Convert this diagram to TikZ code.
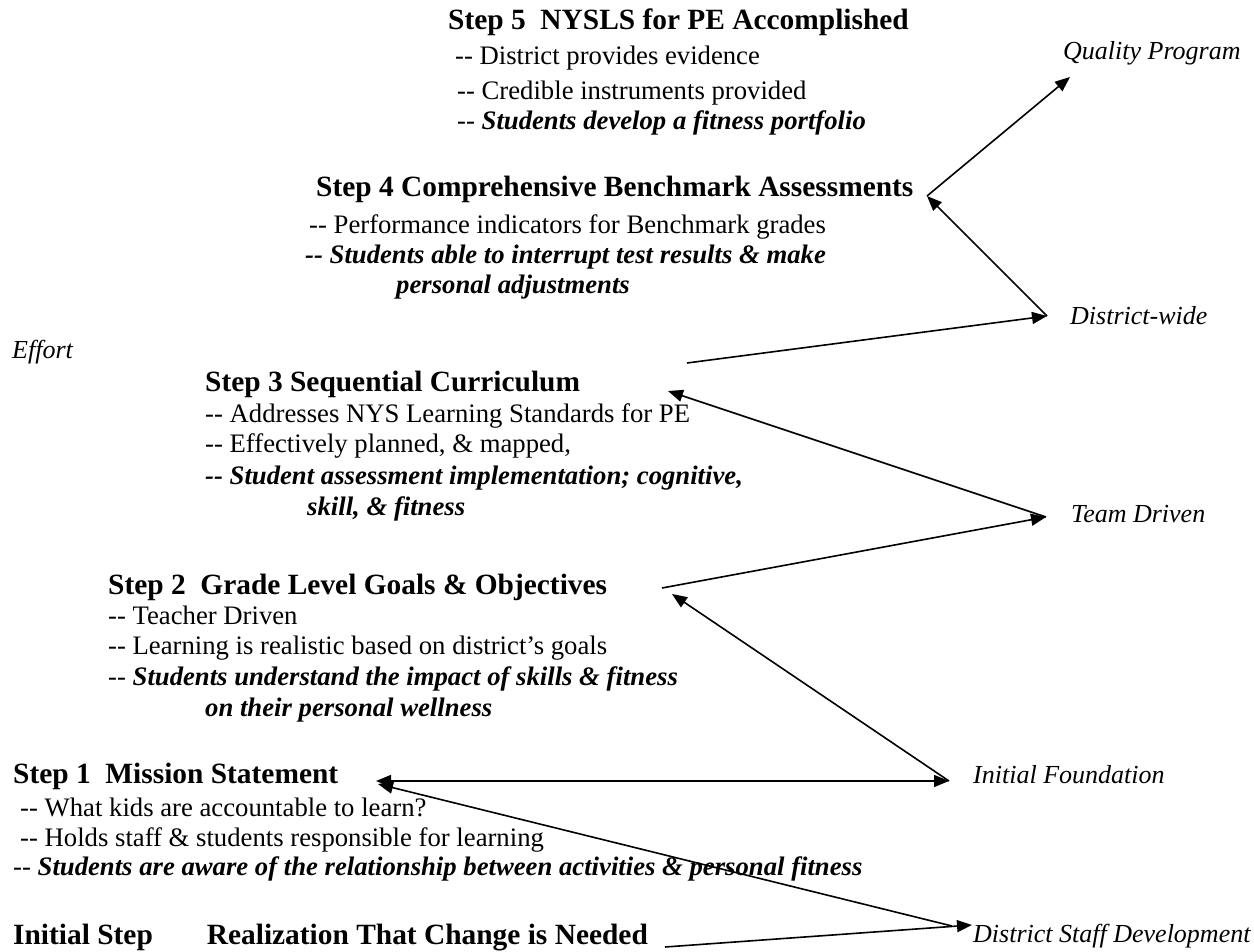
\documentclass[tikz,border=0pt]{standalone}
\usepackage{fontspec}
\setmainfont{Liberation Serif}
\usetikzlibrary{arrows.meta}
\newcommand{\dsh}{\mbox{-}\mbox{-}}
\newcommand{\bi}[1]{\textbf{\textit{#1}}}
\begin{document}
\begin{tikzpicture}[x=1pt,y=-1pt,
  txt/.style={anchor=base west,inner sep=0pt,font=\fontsize{26.7}{30}\selectfont},
  hd/.style={anchor=base west,inner sep=0pt,font=\fontsize{29.4}{34}\selectfont\bfseries},
  scr/.style={anchor=base west,inner sep=0pt,font=\fontsize{26}{30}\selectfont\itshape},
  arr/.style={line width=1.6pt,-{Triangle[length=15pt,width=12pt]}},
  darr/.style={line width=1.6pt,{Triangle[length=15pt,width=12pt]}-{Triangle[length=15pt,width=12pt]}},
]
\useasboundingbox (0,0) rectangle (1254,952);
% Step 5
\node[hd]  (s5)  at (448,30)  {Step 5\ \ NYSLS for PE Accomplished};
\node[txt] (s5a) at (455,65)  {\dsh{} District provides evidence};
\node[txt] (s5b) at (457,100) {\dsh{} Credible instruments provided};
\node[txt] (s5c) at (457,130) {\dsh{} \bi{Students develop a fitness portfolio}};
\node[scr] (qp)  at (1063,60) {Quality Program};
% Step 4
\node[hd]  (s4)  at (316,197) {Step 4 Comprehensive Benchmark Assessments};
\node[txt] (s4a) at (309,234) {\dsh{} Performance indicators for Benchmark grades};
\node[txt] (s4b) at (305,264) {\bi{\dsh{} Students able to interrupt test results \& make}};
\node[txt] (s4c) at (396,294) {\bi{personal adjustments}};
\node[scr] (dw)  at (1070,325) {District-wide};
\node[scr] (ef)  at (12,358)  {Effort};
% Step 3
\node[hd]  (s3)  at (205,391) {Step 3 Sequential Curriculum};
\node[txt] (s3a) at (205,422) {\dsh{} Addresses NYS Learning Standards for PE};
\node[txt] (s3b) at (205,452) {\dsh{} Effectively planned, \& mapped,};
\node[txt] (s3c) at (205,484) {\bi{\dsh{} Student assessment implementation; cognitive,}};
\node[txt] (s3d) at (307,515) {\bi{skill, \& fitness}};
\node[scr] (td)  at (1071,522) {Team Driven};
% Step 2
\node[hd]  (s2)  at (108,594) {Step 2\ \ Grade Level Goals \& Objectives};
\node[txt] (s2a) at (108,624) {\dsh{} Teacher Driven};
\node[txt] (s2b) at (108,654) {\dsh{} Learning is realistic based on district's goals};
\node[txt] (s2c) at (108,685) {\dsh{} \bi{Students understand the impact of skills \& fitness}};
\node[txt] (s2d) at (205,716) {\bi{on their personal wellness}};
% Step 1
\node[hd]  (s1)  at (13,783)  {Step 1\ \ Mission Statement};
\node[scr] (inf) at (973,783) {Initial Foundation};
\node[txt] (s1a) at (20,816)  {\dsh{} What kids are accountable to learn?};
\node[txt] (s1b) at (20,846)  {\dsh{} Holds staff \& students responsible for learning};
\node[txt] (s1c) at (13,875)  {\dsh{} \bi{Students are aware of the relationship between activities \& personal fitness}};
% Initial step
\node[hd]  (s0)  at (13,944)  {Initial Step\hspace{54pt}Realization That Change is Needed};
\node[scr] (dsd) at (973,942) {District Staff Development};
% connector points
\coordinate (pqp)  at (1070,77);
\coordinate (ps4)  at (927,196);
\coordinate (pdw)  at (1047,316);
\coordinate (pef)  at (687,363);
\coordinate (ptd)  at (1046,517);
\coordinate (ps3)  at (668,391);
\coordinate (ps2o) at (662,588);
\coordinate (ps2i) at (672,594);
\coordinate (pif)  at (949,781);
\coordinate (ps1)  at (376,781);
\coordinate (ps1b) at (378,784);
\coordinate (pdsd) at (972,925);
\coordinate (pdsv) at (952,926);
\coordinate (ps0)  at (665,947);
% connectors
\draw[arr] (ps4) -- (pqp);
\draw[arr] (pdw) -- (ps4);
\draw[arr] (pef) -- (pdw);
\draw[arr] (ptd) -- (ps3);
\draw[arr] (ps2o) -- (ptd);
\draw[arr] (pif) -- (ps2i);
\draw[darr] (ps1) -- (pif);
\draw[arr] (pdsv) -- (ps1b);
\draw[arr] (ps0) -- (pdsd);
\end{tikzpicture}
\end{document}
